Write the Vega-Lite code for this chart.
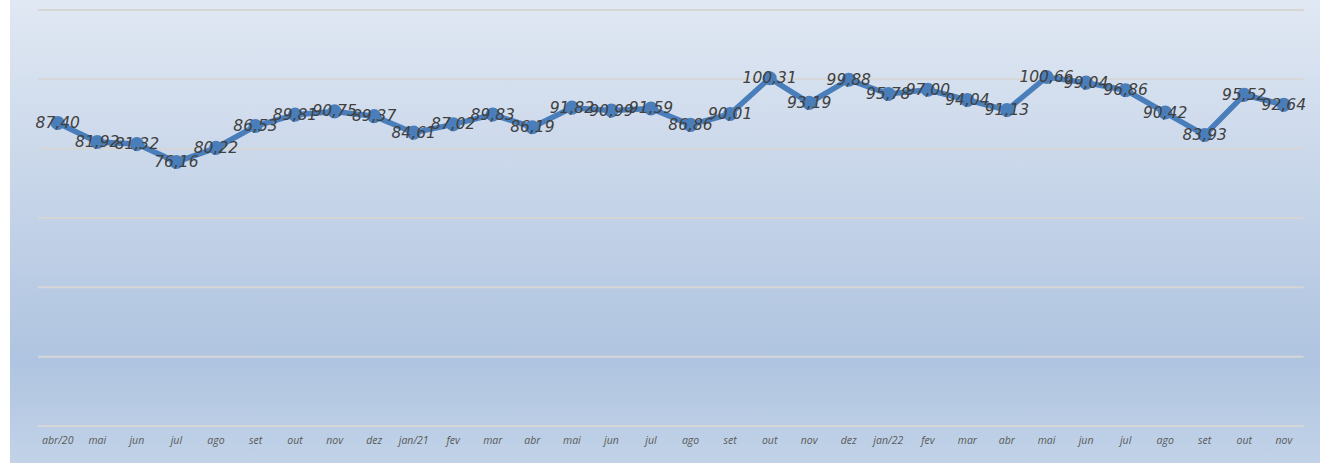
{
  "$schema": "https://vega.github.io/schema/vega-lite/v6.json",
  "width": 1320,
  "height": 463,
  "autosize": {"type": "fit", "contains": "padding"},
  "padding": {"left": 10, "top": 0, "right": 0, "bottom": 0},
  "background": "#ffffff",
  "config": {
    "locale": {"number": {"decimal": ",", "thousands": ".", "grouping": [3], "currency": ["R$", ""]}},
    "view": {
      "stroke": null,
      "fill": {
        "gradient": "linear", "x1": 0, "y1": 0, "x2": 0, "y2": 1,
        "stops": [
          {"offset": 0, "color": "#e0e8f3"},
          {"offset": 0.45, "color": "#c4d3e8"},
          {"offset": 0.78, "color": "#afc4e0"},
          {"offset": 1, "color": "#c2d3e8"}
        ]
      }
    }
  },
  "datasets": {
    "serie": [
      {"mes": "2020-04", "valor": 87.40},
      {"mes": "2020-05", "valor": 81.92},
      {"mes": "2020-06", "valor": 81.32},
      {"mes": "2020-07", "valor": 76.16},
      {"mes": "2020-08", "valor": 80.22},
      {"mes": "2020-09", "valor": 86.53},
      {"mes": "2020-10", "valor": 89.81},
      {"mes": "2020-11", "valor": 90.75},
      {"mes": "2020-12", "valor": 89.37},
      {"mes": "2021-01", "valor": 84.61},
      {"mes": "2021-02", "valor": 87.02},
      {"mes": "2021-03", "valor": 89.83},
      {"mes": "2021-04", "valor": 86.19},
      {"mes": "2021-05", "valor": 91.82},
      {"mes": "2021-06", "valor": 90.99},
      {"mes": "2021-07", "valor": 91.59},
      {"mes": "2021-08", "valor": 86.86},
      {"mes": "2021-09", "valor": 90.01},
      {"mes": "2021-10", "valor": 100.31},
      {"mes": "2021-11", "valor": 93.19},
      {"mes": "2021-12", "valor": 99.88},
      {"mes": "2022-01", "valor": 95.78},
      {"mes": "2022-02", "valor": 97.00},
      {"mes": "2022-03", "valor": 94.04},
      {"mes": "2022-04", "valor": 91.13},
      {"mes": "2022-05", "valor": 100.66},
      {"mes": "2022-06", "valor": 99.04},
      {"mes": "2022-07", "valor": 96.86},
      {"mes": "2022-08", "valor": 90.42},
      {"mes": "2022-09", "valor": 83.93},
      {"mes": "2022-10", "valor": 95.52},
      {"mes": "2022-11", "valor": 92.64}
    ],
    "grade": [
      {"v": 0}, {"v": 20}, {"v": 40}, {"v": 60}, {"v": 80}, {"v": 100}, {"v": 120}
    ]
  },
  "layer": [
    {
      "data": {"name": "grade"},
      "mark": {"type": "rule", "color": "#d6d6d6", "strokeWidth": 2},
      "encoding": {
        "y": {"field": "v", "type": "quantitative"},
        "x": {"datum": "2020-04", "type": "ordinal", "bandPosition": 0},
        "x2": {"datum": "2022-11", "bandPosition": 1}
      }
    },
    {
      "data": {"name": "serie"},
      "mark": {"type": "line", "color": "#4a7ebb", "strokeWidth": 5.5},
      "encoding": {
        "x": {"field": "mes", "type": "ordinal", "bandPosition": 0.5},
        "y": {"field": "valor", "type": "quantitative"}
      }
    },
    {
      "data": {"name": "serie"},
      "mark": {"type": "point", "shape": "circle", "filled": true, "color": "#4a7ebb", "opacity": 1, "size": 200},
      "encoding": {
        "x": {"field": "mes", "type": "ordinal", "bandPosition": 0.5},
        "y": {"field": "valor", "type": "quantitative"}
      }
    },
    {
      "data": {"name": "serie"},
      "mark": {"type": "text", "font": "DejaVu Sans", "fontStyle": "italic", "fontSize": 15.5, "color": "#404040", "align": "center", "baseline": "middle"},
      "encoding": {
        "x": {"field": "mes", "type": "ordinal", "bandPosition": 0.5},
        "y": {"field": "valor", "type": "quantitative"},
        "text": {"field": "valor", "type": "quantitative", "format": ".2f"}
      }
    }
  ],
  "encoding": {
    "x": {
      "field": "mes",
      "type": "ordinal",
      "scale": {"type": "band", "paddingInner": 0, "paddingOuter": 0.561, "align": 0.63},
      "axis": {
        "title": null,
        "orient": "bottom",
        "offset": -28,
        "domain": false,
        "ticks": false,
        "grid": false,
        "labelAngle": 0,
        "labelPadding": 0,
        "labelFont": "Open Sans",
        "labelFontStyle": "italic",
        "labelFontSize": 10.5,
        "labelColor": "#595959",
        "labelExpr": "['jan','fev','mar','abr','mai','jun','jul','ago','set','out','nov','dez'][toNumber(substring(datum.value,5,7))-1] + ((substring(datum.value,5,7)=='01' || datum.value=='2020-04') ? '/' + substring(datum.value,2,4) : '')"
      }
    },
    "y": {
      "type": "quantitative",
      "scale": {"domain": [-10.673, 122.885], "nice": false, "zero": false},
      "axis": null
    }
  }
}
